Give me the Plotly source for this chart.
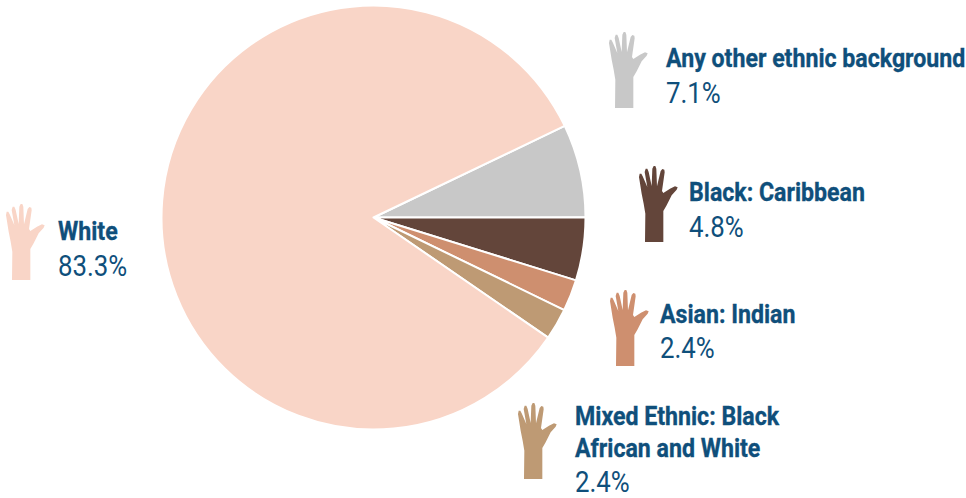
import plotly.graph_objects as go

W, H = 966, 498
categories = ["Any other ethnic background", "Black: Caribbean", "Asian: Indian",
              "Mixed Ethnic: Black African and White", "White"]
values = [7.1, 4.8, 2.4, 2.4, 83.3]
colors = ["#C8C8C8", "#63453A", "#CE8F6F", "#BE9A74", "#F9D5C7"]
TEXT = "#0F4F7B"

# label lines: text, x, y centre, bold
name_lines = [("Any other ethnic background", 666, 58), ("Black: Caribbean", 689, 192),
              ("Asian: Indian", 660, 314), ("Mixed Ethnic: Black", 575, 416),
              ("African and White", 575, 448), ("White", 58, 231)]
pct_lines = [("7.1%", 666, 93), ("4.8%", 689, 227), ("2.4%", 660, 348),
             ("2.4%", 575, 482), ("83.3%", 58, 266)]
# icon top-left corner per slice
hand_pos = [(609, 32), (639, 166), (610, 290), (518, 403), (6, 204)]
# hand outline in 3x pixels
hand = [(45,265),(46,180),(41,150),(35,120),(27,70),(29,60),(34,60),(38,68),(52,100),(44,55),(47,45),
        (52,45),(56,55),(65,97),(67,45),(71,37),(76,37),(79,45),(81,98),(92,52),(97,46),(103,48),
        (104,56),(96,112),(100,118),(120,105),(135,98),(143,101),(140,108),(125,125),(110,155),
        (100,172),(100,265)]

def px(x): return x / W
def py(y): return 1 - y / H

fig = go.Figure(go.Pie(
    labels=categories, values=values, sort=False, direction="clockwise", rotation=64.4,
    marker=dict(colors=colors, line=dict(color="white", width=2)),
    textinfo="none", hoverinfo="label+percent", showlegend=False,
    domain=dict(x=[px(161.5), px(585.5)], y=[py(429.5), py(5.5)]),
))

shapes = []
for (ox, oy), c in zip(hand_pos, colors):
    pts = [(px(ox + (x - 27) / 3), py(oy + (y - 37) / 3)) for x, y in hand]
    d = "M" + " L".join(f"{a:.5f},{b:.5f}" for a, b in pts) + " Z"
    shapes.append(dict(type="path", path=d, xref="paper", yref="paper",
                       fillcolor=c, line=dict(width=0)))

ann = []
for t, x, y in name_lines:
    ann.append(dict(text=f"<b>{t}</b>", x=px(x), y=py(y), xref="paper", yref="paper", xanchor="left",
                    yanchor="middle", showarrow=False, xshift=-2,
                    font=dict(family="Roboto", size=26, color=TEXT)))
for t, x, y in pct_lines:
    ann.append(dict(text=t, x=px(x), y=py(y), xref="paper", yref="paper", xanchor="left",
                    yanchor="middle", showarrow=False, xshift=-2,
                    font=dict(family="Roboto", size=29, color=TEXT)))

fig.update_layout(width=W, height=H, margin=dict(l=0, r=0, t=0, b=0), paper_bgcolor="white",
                  shapes=shapes, annotations=ann)
condense = """
document.body.style.margin='0';
document.documentElement.style.overflow='hidden';
document.querySelectorAll('.annotation-text').forEach(function(t){
  var isPct=t.textContent.indexOf('%')>=0;
  t.style.transformBox='fill-box';
  t.style.transformOrigin='left center';
  t.style.transform=isPct?'scaleX(0.89)':'scaleX(0.89)';
  if(!isPct){t.style.stroke='#0F4F7B';t.style.strokeWidth='0.35px';}
});
"""
fig.write_html("out.html", post_script=condense, config=dict(displayModeBar=False))
